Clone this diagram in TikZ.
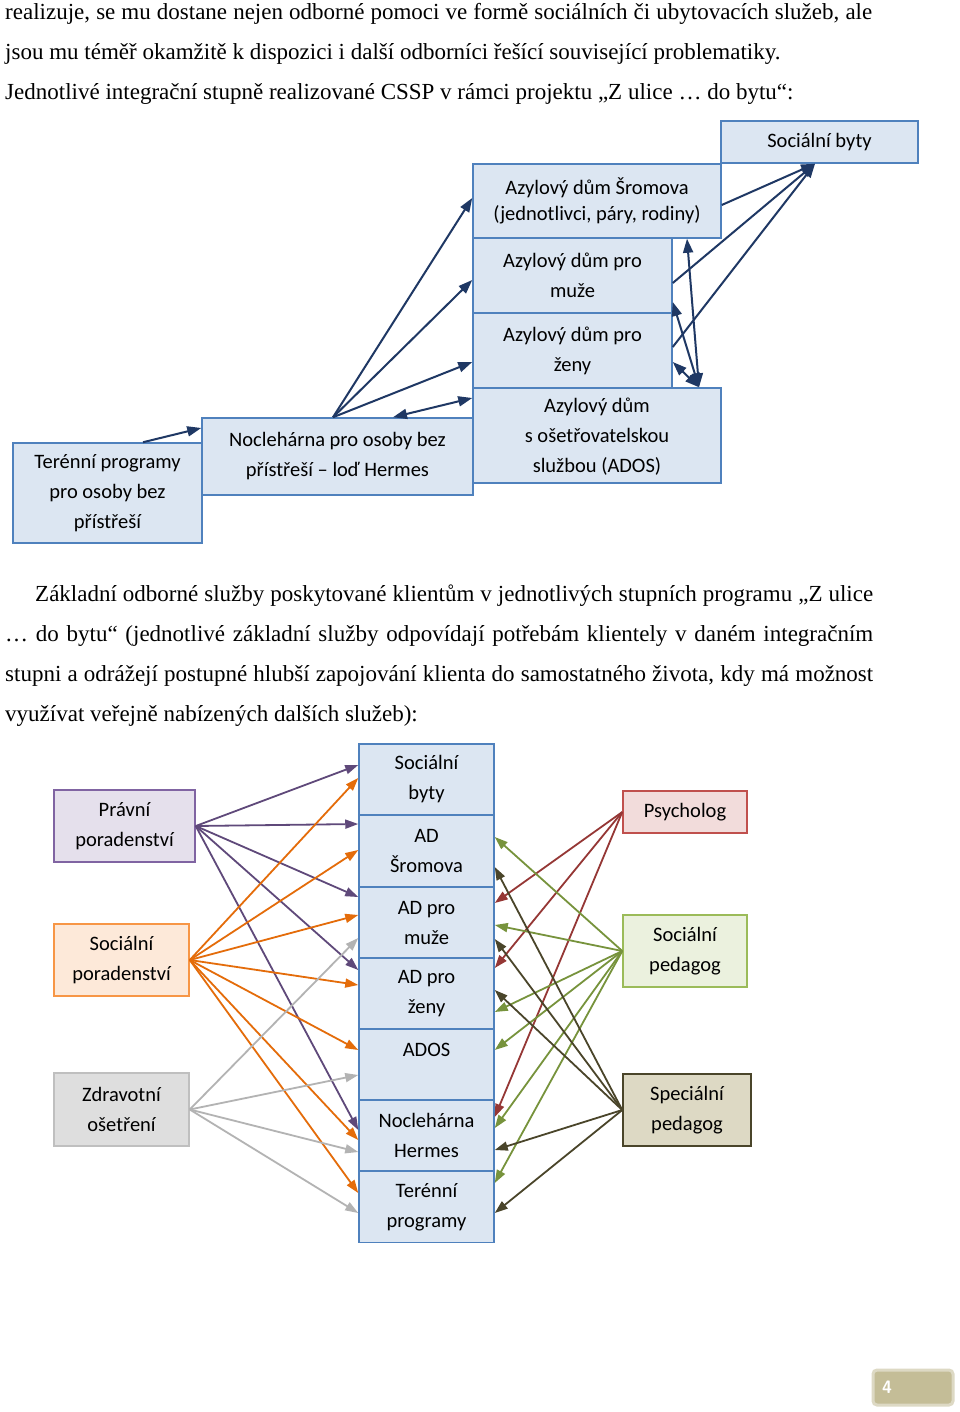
\documentclass[tikz,border=0pt]{standalone}
\usepackage{fontspec}
\setmainfont{Liberation Serif}
\newfontfamily\boxfont{Carlito}
\usetikzlibrary{arrows.meta}

\definecolor{boxblue}{HTML}{DCE6F2}
\definecolor{edgeblue}{HTML}{4F81BD}
\definecolor{navy}{HTML}{1F3864}
\definecolor{lilac}{HTML}{E5E0EC}
\definecolor{lilacedge}{HTML}{8064A2}
\definecolor{purple}{HTML}{5F497A}
\definecolor{peach}{HTML}{FDE9D9}
\definecolor{peachedge}{HTML}{F79646}
\definecolor{orange}{HTML}{E46C0A}
\definecolor{lightgrey}{HTML}{DEDEDE}
\definecolor{greyedge}{HTML}{BFBFBF}
\definecolor{greyline}{HTML}{B3B3B3}
\definecolor{rose}{HTML}{F2DCDB}
\definecolor{roseedge}{HTML}{C0504D}
\definecolor{darkred}{HTML}{953735}
\definecolor{pale}{HTML}{EBF1DE}
\definecolor{paleedge}{HTML}{9BBB59}
\definecolor{olive}{HTML}{77933C}
\definecolor{sand}{HTML}{DDD9C4}
\definecolor{brown}{HTML}{4A452A}
\definecolor{tan}{HTML}{C4BD97}

\begin{document}
\begin{tikzpicture}[x=1pt, y=-1pt, >={Triangle[length=14pt,width=10pt]},
  every node/.style={inner sep=0pt},
  para/.style={anchor=base west, font=\fontsize{23}{28}\selectfont},
  box/.style={draw=edgeblue, fill=boxblue, line width=1.5pt, align=center,
    font=\boxfont\fontsize{20.5}{30}\selectfont},
  link/.style={->, line width=2pt, navy},
  line/.style={->, line width=1.8pt, >={Triangle[length=13pt,width=9pt]}}]
  \useasboundingbox[fill=white] (0,0) rectangle (960,1412);

  % text above
  \node[para] (P1) at (5,20) {\makebox[867pt][s]{realizuje, se mu dostane nejen odborné pomoci ve formě sociálních či ubytovacích služeb, ale}};
  \node[para] (P2) at (5,60) {jsou mu téměř okamžitě k~dispozici i další odborníci řešící související problematiky.};
  \node[para] (P3) at (5,100) {Jednotlivé integrační stupně realizované CSSP v~rámci projektu „Z ulice … do bytu“:};

  % integration steps
  \node[box, minimum width=189pt, minimum height=100pt] (TP) at (107.5,493) {Terénní programy\\pro osoby bez\\přístřeší};
  \node[box, minimum width=271pt, minimum height=77pt] (NH) at (337.5,456.5) {Noclehárna pro osoby bez\\přístřeší – loď Hermes};
  \node[box, minimum width=248pt, minimum height=74pt, font=\boxfont\fontsize{20.5}{26}\selectfont] (SR) at (597,201) {Azylový dům Šromova\\(jednotlivci, páry, rodiny)};
  \node[box, minimum width=199pt, minimum height=75pt] (AM) at (572.5,275.5) {Azylový dům pro\\muže};
  \node[box, minimum width=199pt, minimum height=75pt] (AZ) at (572.5,350.5) {Azylový dům pro\\ženy};
  \node[box, minimum width=248pt, minimum height=95pt, text depth=0pt] (AO) at (597,435.5) {Azylový dům\\s~ošetřovatelskou\\službou (ADOS)};
  \node[box, minimum width=197pt, minimum height=42pt] (SB) at (819.5,142) {Sociální byty};

  \draw[link] ([xshift=35.5pt]TP.north) -- ([yshift=28.5pt]NH.west);
  \draw[link] ([xshift=-4.5pt]NH.north) -- ([yshift=3pt]SR.west);
  \draw[link] ([xshift=-4.5pt]NH.north) -- ([yshift=-4.5pt]AM.west);
  \draw[link] ([xshift=-4.5pt]NH.north) -- ([yshift=-11.5pt]AZ.west);
  \draw[link, <->] ([xshift=55.5pt]NH.north) -- ([yshift=37.5pt]AO.west);
  \draw[link] ([yshift=-4pt]SR.east) -- ([xshift=-4.5pt]SB.south);
  \draw[link] ([yshift=-7.5pt]AM.east) -- ([xshift=-4.5pt]SB.south);
  \draw[link] ([yshift=3.5pt]AZ.east) -- ([xshift=-4.5pt]SB.south);
  \draw[link, <->] ([xshift=90pt]SR.south) -- ([xshift=102pt]AO.north);
  \draw[link, <->] ([yshift=-26.5pt]AM.east) -- ([xshift=102pt]AO.north);
  \draw[link, <->] ([yshift=-11.5pt]AZ.east) -- ([xshift=102pt]AO.north);

  % text between
  \node[para] (Q1) at (35,601) {\makebox[838pt][s]{Základní odborné služby poskytované klientům v~jednotlivých stupních programu „Z ulice}};
  \node[para] (Q2) at (5,641) {\makebox[868pt][s]{… do bytu“ (jednotlivé základní služby odpovídají potřebám klientely v~daném integračním}};
  \node[para] (Q3) at (5,681) {\makebox[868pt][s]{stupni a odrážejí postupné hlubší zapojování klienta do samostatného života, kdy má možnost}};
  \node[para] (Q4) at (5,721) {využívat veřejně nabízených dalších služeb):};

  % services
  \node[box, minimum width=135pt, minimum height=71.3pt] (bSB) at (426.5,779.5) {Sociální\\byty};
  \node[box, minimum width=135pt, minimum height=71.3pt] (bSR) at (426.5,851) {AD\\Šromova};
  \node[box, minimum width=135pt, minimum height=71.3pt] (bAM) at (426.5,922.5) {AD pro\\muže};
  \node[box, minimum width=135pt, minimum height=71.3pt] (bAZ) at (426.5,993.5) {AD pro\\ženy};
  \node[box, minimum width=135pt, minimum height=71.3pt] (bAO) at (426.5,1064.5) {ADOS\\~};
  \node[box, minimum width=135pt, minimum height=71.3pt] (bNH) at (426.5,1135.5) {Noclehárna\\Hermes};
  \node[box, minimum width=135pt, minimum height=71.3pt] (bTP) at (426.5,1207) {Terénní\\programy};

  \node[box, draw=lilacedge, fill=lilac, minimum width=141pt, minimum height=72pt] (PR) at (124.5,826) {Právní\\poradenství};
  \node[box, draw=peachedge, fill=peach, minimum width=135pt, minimum height=72pt] (SP) at (121.5,960) {Sociální\\poradenství};
  \node[box, draw=greyedge, fill=lightgrey, minimum width=135pt, minimum height=73pt] (ZO) at (121.5,1109.5) {Zdravotní\\ošetření};
  \node[box, draw=roseedge, fill=rose, minimum width=124pt, minimum height=42pt] (PS) at (685,812) {Psycholog};
  \node[box, draw=paleedge, fill=pale, minimum width=124pt, minimum height=72pt] (SPg) at (685,951) {Sociální\\pedagog};
  \node[box, draw=brown, fill=sand, minimum width=128pt, minimum height=72pt] (SPc) at (687,1110) {Speciální\\pedagog};

  \draw[line, purple] (PR.east) -- ([yshift=14.5pt]bSB.west);
  \draw[line, purple] (PR.east) -- ([yshift=27pt]bSR.west);
  \draw[line, purple] (PR.east) -- ([yshift=25.5pt]bAM.west);
  \draw[line, purple] (PR.east) -- ([yshift=23.5pt]bAZ.west);
  \draw[line, purple] (PR.east) -- ([yshift=5.5pt]bNH.west);

  \draw[line, orange] (SP.east) -- ([yshift=1.5pt]bSB.west);
  \draw[line, orange] (SP.east) -- ([yshift=1pt]bSR.west);
  \draw[line, orange] (SP.east) -- ([yshift=7.5pt]bAM.west);
  \draw[line, orange] (SP.east) -- ([yshift=8.5pt]bAZ.west);
  \draw[line, orange] (SP.east) -- ([yshift=14.5pt]bAO.west);
  \draw[line, orange] (SP.east) -- ([yshift=-4.5pt]bNH.west);
  \draw[line, orange] (SP.east) -- ([yshift=14pt]bTP.west);

  \draw[line, greyline] (ZO.east) -- ([yshift=-15.5pt]bAM.west);
  \draw[line, greyline] (ZO.east) -- ([yshift=-10.5pt]bAO.west);
  \draw[line, greyline] (ZO.east) -- ([yshift=-16.5pt]bNH.west);
  \draw[line, greyline] (ZO.east) -- ([yshift=-6pt]bTP.west);

  \draw[line, darkred] (PS.west) -- ([yshift=19.5pt]bAM.east);
  \draw[line, darkred] (PS.west) -- ([yshift=25.5pt]bAZ.east);
  \draw[line, darkred] (PS.west) -- ([yshift=18.5pt]bNH.east);

  \draw[line, olive] (SPg.west) -- ([yshift=14pt]bSR.east);
  \draw[line, olive] (SPg.west) -- ([yshift=-2.5pt]bAM.east);
  \draw[line, olive] (SPg.west) -- ([yshift=-18.5pt]bAZ.east);
  \draw[line, olive] (SPg.west) -- ([yshift=14.5pt]bAO.east);
  \draw[line, olive] (SPg.west) -- ([yshift=7.5pt]bNH.east);
  \draw[line, olive] (SPg.west) -- ([yshift=24pt]bTP.east);

  \draw[line, brown] (SPc.west) -- ([yshift=-16pt]bSR.east);
  \draw[line, brown] (SPc.west) -- ([yshift=-16.5pt]bAM.east);
  \draw[line, brown] (SPc.west) -- ([yshift=3.5pt]bAZ.east);
  \draw[line, brown] (SPc.west) -- ([yshift=-14.5pt]bNH.east);
  \draw[line, brown] (SPc.west) -- ([yshift=-6pt]bTP.east);

  % page number
  \node[draw=sand, fill=tan, line width=3pt, rounded corners=4pt, minimum width=80pt, minimum height=35pt,
    text=white, font=\sffamily\bfseries\fontsize{18}{20}\selectfont, text width=62pt] (PG) at (913,1387.5) {4};
\end{tikzpicture}
\end{document}
